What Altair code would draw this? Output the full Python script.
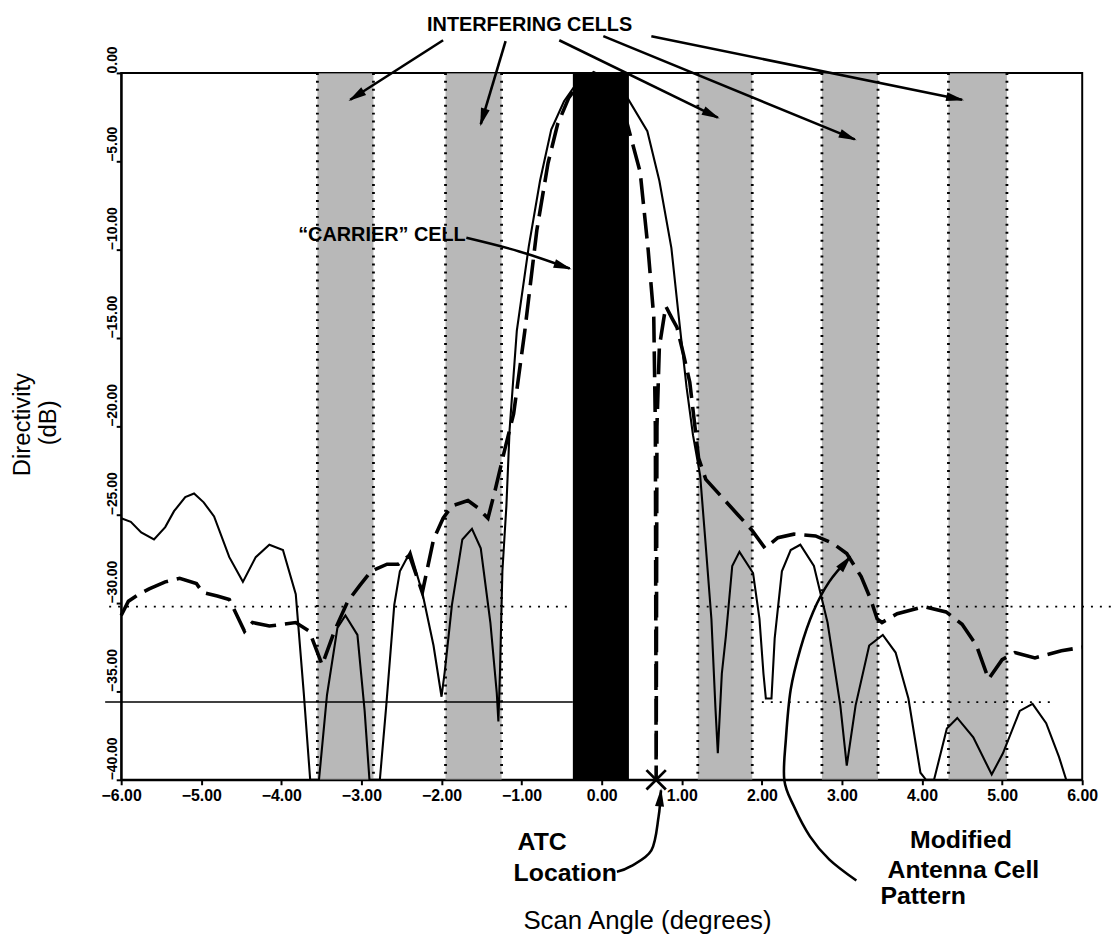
import math
import altair as alt
import pandas as pd

W, H = 968, 712
FONT = "Liberation Sans"

# ---------------- data ----------------
solid_x = [-6.00, -5.88, -5.75, -5.59, -5.45, -5.34, -5.20, -5.09, -4.97, -4.84,
           -4.65, -4.48, -4.32, -4.15, -3.98, -3.82, -3.72, -3.64, -3.53, -3.43,
           -3.30, -3.20, -3.05, -2.96, -2.90, -2.77, -2.69, -2.59, -2.52, -2.39,
           -2.24, -2.10, -2.00, -1.96, -1.87, -1.74, -1.62, -1.51, -1.39, -1.31,
           -1.29, -1.27, -1.24, -1.19, -1.15, -1.06, -0.91, -0.77, -0.63, -0.47,
           -0.30, -0.08, 0.12, 0.32, 0.57, 0.72, 0.87, 0.96, 1.06, 1.14,
           1.23, 1.30, 1.37, 1.42, 1.45, 1.50, 1.55, 1.63, 1.72, 1.89,
           1.97, 2.02, 2.05, 2.12, 2.16, 2.25, 2.36, 2.48, 2.65, 2.82,
           2.98, 3.06, 3.17, 3.34, 3.51, 3.67, 3.83, 3.98, 4.05, 4.15,
           4.31, 4.44, 4.64, 4.87, 5.01, 5.22, 5.38, 5.55, 5.71, 5.80]
solid_y = [-25.2, -25.4, -26.0, -26.4, -25.7, -24.8, -24.0, -23.8, -24.3, -25.1,
           -27.4, -28.8, -27.4, -26.7, -27.0, -29.5, -35.1, -40.0, -40.0, -35.2,
           -31.4, -30.7, -31.8, -36.1, -40.0, -40.0, -35.8, -30.1, -28.2, -27.1,
           -29.4, -32.4, -35.3, -33.9, -30.1, -26.4, -25.8, -26.9, -31.1, -35.1,
           -36.7, -33.9, -28.2, -24.5, -20.2, -14.6, -9.8, -6.1, -3.2, -1.6,
           -0.5, 0.0, -0.4, -1.4, -3.3, -6.1, -9.9, -13.7, -17.8, -20.5,
           -22.8, -26.8, -30.9, -35.9, -38.5, -34.0, -31.9, -27.9, -27.1, -28.3,
           -30.9, -34.0, -35.4, -35.4, -32.0, -28.2, -27.0, -26.7, -27.9, -31.1,
           -35.8, -39.2, -35.8, -32.4, -31.8, -32.8, -35.4, -39.6, -40.0, -40.0,
           -37.1, -36.5, -37.6, -39.7, -38.5, -36.1, -35.7, -36.8, -38.7, -40.0]

dashed_x = [-6.00, -5.91, -5.78, -5.65, -5.45, -5.27, -5.06, -4.98, -4.80, -4.65,
            -4.46, -4.36, -4.15, -3.82, -3.65, -3.49, -3.33, -3.17, -3.02, -2.88,
            -2.68, -2.54, -2.40, -2.24, -2.10, -1.98, -1.87, -1.67, -1.55, -1.42,
            -1.33, -1.21, -1.10, -0.96, -0.81, -0.67, -0.55, -0.41, -0.25, -0.10,
            0.10, 0.32, 0.48, 0.58, 0.65, 0.67, 0.68, 0.69, 0.72, 0.80,
            0.88, 0.94, 1.02, 1.10, 1.21, 1.30, 1.50, 1.70, 1.88, 2.04,
            2.20, 2.40, 2.67, 2.88, 3.06, 3.24, 3.36, 3.44, 3.50, 3.69,
            4.02, 4.30, 4.50, 4.68, 4.83, 5.00, 5.16, 5.41, 5.74, 6.00]
dashed_y = [-30.7, -29.9, -29.5, -29.2, -28.8, -28.6, -28.9, -29.4, -29.6, -29.8,
            -31.6, -31.1, -31.3, -31.1, -31.6, -33.5, -31.5, -29.9, -29.0, -28.2,
            -27.8, -27.8, -27.3, -29.4, -26.4, -25.2, -24.5, -24.2, -24.6, -25.2,
            -23.6, -21.3, -19.3, -14.6, -8.9, -5.1, -2.9, -1.4, -0.4, 0.0,
            -0.6, -2.9, -5.6, -10.0, -13.8, -20.0, -40.0, -20.0, -15.5, -13.2,
            -13.9, -14.4, -15.9, -17.5, -21.8, -23.0, -24.0, -25.0, -25.9, -26.9,
            -26.3, -26.1, -26.2, -26.6, -27.2, -28.5, -29.8, -30.9, -31.1, -30.6,
            -30.2, -30.5, -31.2, -32.4, -34.3, -33.2, -32.8, -33.1, -32.7, -32.5]

cell_lo = [-3.55, -1.95, 1.20, 2.75, 4.33]
cell_hi = [-2.85, -1.25, 1.88, 3.45, 5.06]
carrier_lo = [-0.36]
carrier_hi = [0.34]

thr_y = [-30.2, -30.2, -35.6]
thr_x1 = [-6.15, 1.20, 2.00]
thr_x2 = [-0.36, 6.38, 5.60]
thr_solid_y = [-35.6]
thr_solid_x1 = [-6.2]
thr_solid_x2 = [-0.36]

atc_x = [0.68]
atc_y = [-40.0]

# annotation arrows (data units)
arrow_xs = [[-1.98, -3.14], [-1.20, -1.51], [-0.53, 1.45], [0.02, 3.16], [0.62, 4.50],
            [-1.69, -1.03, -0.40],
            [0.19, 0.36, 0.62, 0.71, 0.74],
            [3.18, 2.84, 2.60, 2.40, 2.28, 2.30, 2.36, 2.48, 2.64, 2.84, 3.10]]
arrow_ys = [[1.85, -1.52], [1.80, -2.90], [1.85, -2.53], [2.08, -3.76], [2.08, -1.52],
            [-9.33, -10.1, -11.07],
            [-45.2, -44.9, -44.0, -42.1, -40.6],
            [-45.7, -44.5, -43.2, -41.5, -40.0, -37.7, -34.9, -32.6, -30.5, -28.8, -27.4]]

# ---------------- tables ----------------
solid_df = pd.DataFrame({"x": solid_x, "y": solid_y, "k": range(len(solid_x))})
dashed_df = pd.DataFrame({"x": dashed_x, "y": dashed_y, "k": range(len(dashed_x))})
cells_df = pd.DataFrame({"lo": cell_lo, "hi": cell_hi, "top": 0.0, "bot": -40.0})
borders_df = pd.DataFrame({"x": cell_lo + cell_hi, "top": 0.0, "bot": -40.0})
carrier_df = pd.DataFrame({"lo": carrier_lo, "hi": carrier_hi, "top": 0.0, "bot": -40.0})
thr_df = pd.DataFrame({"x": thr_x1, "x2": thr_x2, "y": thr_y})
thr_solid_df = pd.DataFrame({"x": thr_solid_x1, "x2": thr_solid_x2, "y": thr_solid_y})
atc_df = pd.DataFrame({"x": atc_x, "y": atc_y})

rows, heads = [], []
pxx, pxy = W / 12.0, H / 40.0
for i, (xs, ys) in enumerate(zip(arrow_xs, arrow_ys)):
    for k, (a, b) in enumerate(zip(xs, ys)):
        rows.append({"id": i, "k": k, "x": a, "y": b})
    dx = (xs[-1] - xs[-2]) * pxx
    dy = -(ys[-1] - ys[-2]) * pxy
    L = math.hypot(dx, dy)
    ux, uy = dx / L, dy / L
    ang = math.degrees(math.atan2(ux, -uy)) % 360
    back = 7.0
    heads.append({"x": xs[-1] - ux * back / pxx, "y": ys[-1] + uy * back / pxy, "ang": ang})
arrows_df = pd.DataFrame(rows)
heads_df = pd.DataFrame(heads)

# ---------------- scales / axes ----------------
xs_ = alt.Scale(domain=[-6, 6], nice=False, zero=False)
ys_ = alt.Scale(domain=[-40, 0], nice=False, zero=False)
x_axis = alt.Axis(values=list(range(-6, 7)), format=".2f", title=None, grid=False,
                  labelFont=FONT, labelFontWeight="bold", labelFontSize=16, labelColor="black",
                  tickSize=5, tickWidth=2, tickColor="black", domainColor="black", domainWidth=2,
                  labelPadding=3, labelFlush=False, labelOverlap=False)
y_axis = alt.Axis(values=list(range(0, -45, -5)), format=".2f", title=None, grid=False,
                  labelFont=FONT, labelFontWeight="bold", labelFontSize=14, labelColor="black",
                  labelAngle=270, labelAlign="left", labelBaseline="middle",
                  tickSize=5, tickWidth=2, tickColor="black", domainColor="black", domainWidth=2,
                  labelPadding=4, labelFlush=False, labelOverlap=False)


def X(f="x"):
    return alt.X(f, type="quantitative", scale=xs_, axis=x_axis)


def Y(f="y"):
    return alt.Y(f, type="quantitative", scale=ys_, axis=y_axis)


bands = alt.Chart(cells_df).mark_rect(color="#9c9c9c", opacity=0.72).encode(
    x=X("lo"), x2="hi", y=Y("top"), y2="bot")
borders = alt.Chart(borders_df).mark_rule(color="black", strokeWidth=2.8, strokeDash=[2, 6]).encode(
    x=X("x"), y=Y("top"), y2="bot")
thr_dot = alt.Chart(thr_df).mark_rule(color="black", strokeWidth=1.8, strokeDash=[2, 7]).encode(
    x=X("x"), x2="x2", y=Y("y"))
thr_sol = alt.Chart(thr_solid_df).mark_rule(color="black", strokeWidth=1.6).encode(
    x=X("x"), x2="x2", y=Y("y"))
solid = alt.Chart(solid_df).mark_line(color="black", strokeWidth=2.1).encode(
    x=X(), y=Y(), order="k:Q")
dashed = alt.Chart(dashed_df).mark_line(color="black", strokeWidth=3.6, strokeDash=[26, 9]).encode(
    x=X(), y=Y(), order="k:Q")
carrier = alt.Chart(carrier_df).mark_rect(color="black").encode(
    x=X("lo"), x2="hi", y=Y("top"), y2="bot")
atc = alt.Chart(atc_df).mark_point(shape="M-1,-1L1,1M-1,1L1,-1", size=380, filled=False,
                                   color="black", strokeWidth=2.8, opacity=1).encode(x=X(), y=Y())
arrows = alt.Chart(arrows_df).mark_line(color="black", strokeWidth=2.6, interpolate="cardinal").encode(
    x=X(), y=Y(), detail="id:N", order="k:Q")
heads_l = alt.Chart(heads_df).mark_point(shape="M0,-1L0.5,1L-0.5,1Z", filled=True, color="black",
                                         size=330, opacity=1).encode(
    x=X(), y=Y(), angle=alt.Angle("ang:Q", scale=None))

# ---------------- text ----------------
title_df = pd.DataFrame({"x": [-0.90], "y": [2.70], "t": ["INTERFERING CELLS"]})
carrier_txt_df = pd.DataFrame({"x": [-3.79], "y": [-9.16], "t": ["\u201cCARRIER\u201d CELL"]})
left_txt_df = pd.DataFrame({
    "x": [-1.05, -1.10, 3.85, 3.57, 3.48],
    "y": [-43.5, -45.3, -43.4, -45.1, -46.6],
    "t": ["ATC", "Location", "Modified", "Antenna Cell", "Pattern"]})
xtitle_df = pd.DataFrame({"x": [2.12], "y": [-48.0], "t": ["Scan Angle (degrees)"]})
ytitle_df = pd.DataFrame({"x": [-7.23, -6.90], "y": [-19.9, -19.8], "t": ["Directivity", "(dB)"]})

t_title = alt.Chart(title_df).mark_text(font=FONT, fontWeight="bold", fontSize=20, align="center",
                                        baseline="middle", color="black").encode(x=X(), y=Y(), text="t:N")
t_carrier = alt.Chart(carrier_txt_df).mark_text(font=FONT, fontWeight="bold", fontSize=20, align="left",
                                                baseline="middle", color="black").encode(x=X(), y=Y(), text="t:N")
t_left = alt.Chart(left_txt_df).mark_text(font=FONT, fontWeight="bold", fontSize=25, align="left",
                                          baseline="middle", color="black").encode(x=X(), y=Y(), text="t:N")
t_xtitle = alt.Chart(xtitle_df).mark_text(font=FONT, fontSize=26, align="right",
                                          baseline="middle", color="black").encode(x=X(), y=Y(), text="t:N")
t_ytitle = alt.Chart(ytitle_df).mark_text(font=FONT, fontSize=24, align="center", angle=270,
                                          baseline="middle", color="black").encode(x=X(), y=Y(), text="t:N")

chart = alt.layer(
    bands, borders, thr_dot, thr_sol, solid, dashed, carrier, atc, arrows, heads_l,
    t_title, t_carrier, t_left, t_xtitle, t_ytitle
).properties(
    width=W, height=H,
    autosize=alt.AutoSizeParams(type="none"),
    padding={"left": 114, "top": 62, "right": 29, "bottom": 161},
    background="white",
).configure_view(stroke="black", strokeWidth=2)

chart.save("out.html", embed_options={"renderer": "svg", "actions": False})
